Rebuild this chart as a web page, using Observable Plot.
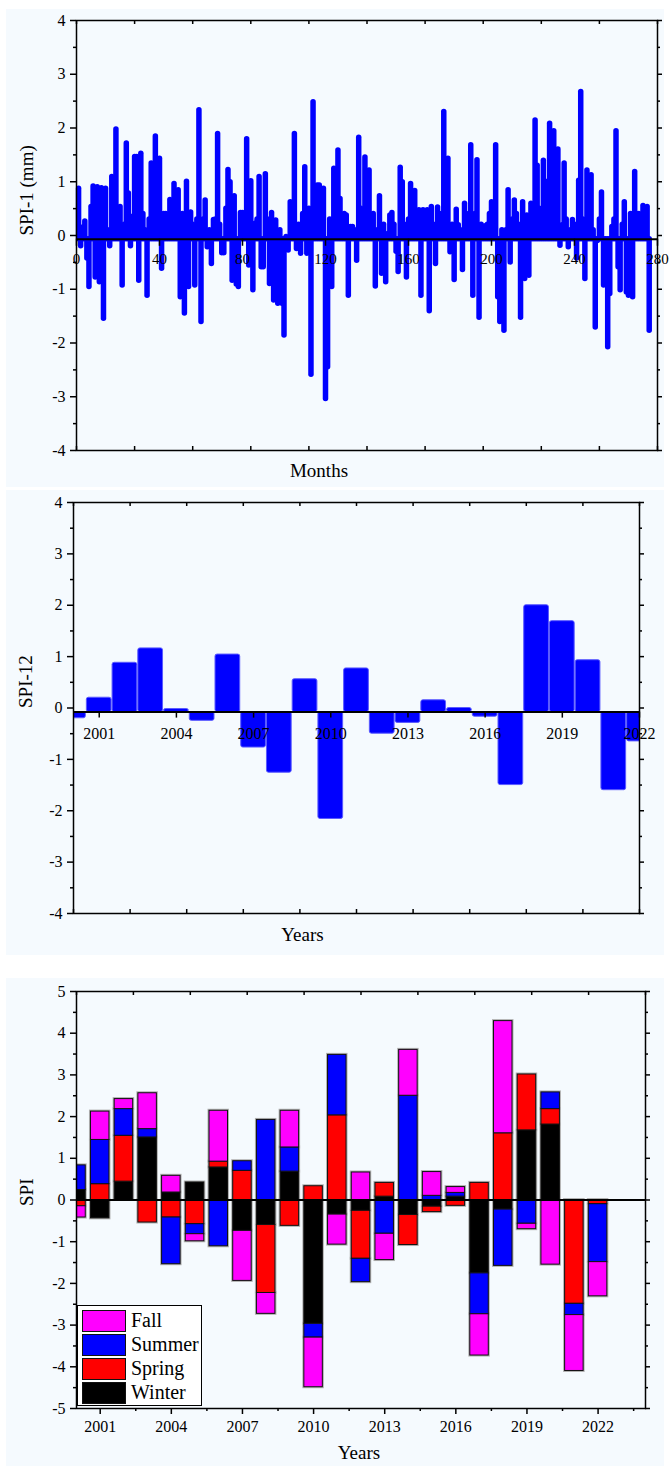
<!DOCTYPE html>
<html><head><meta charset="utf-8">
<script src="https://cdn.jsdelivr.net/npm/d3@7"></script>
<script src="https://cdn.jsdelivr.net/npm/@observablehq/plot@0.6"></script>
<style>
html,body{margin:0;padding:0;background:#fff;}
body{width:670px;height:1466px;position:relative;overflow:hidden;font-family:"Liberation Serif","Times New Roman",serif;}
.panel{position:absolute;left:6px;width:658px;background:#f5fafe;}
.panel svg{display:block;overflow:visible;}
#legend{position:absolute;left:77px;top:1305px;width:123px;height:99px;border:1px solid #000;background:#fff;}
#legend .row{position:absolute;left:4px;height:21px;}
#legend .sw{position:absolute;left:0;top:0;width:42px;height:20px;border:1px solid #111;}
#legend .lb{position:absolute;left:49px;top:-2px;font-size:20px;line-height:24px;white-space:nowrap;color:#000;}
</style></head><body>
<div class="panel" id="p1" style="top:9px;height:478px"></div>
<div class="panel" id="p2" style="top:490px;height:465px"></div>
<div class="panel" id="p3" style="top:978px;height:488px"></div>
<div id="legend"></div>
<script>
// ---------- DATA ----------
// Panel 1: monthly SPI-1, Jan 2000 .. Dec 2022 (one row per year)
const spi1Monthly = [
  0.87,-0.20,0.15,0.26,-0.43,-0.96,0.53,0.91,-0.78,0.90,-0.87,0.88,
  -1.55,0.87,0.10,-0.20,1.09,0.45,1.97,0.30,0.53,-0.93,0.20,1.71,
  0.78,-0.20,0.35,1.46,1.46,-0.84,1.52,0.40,0.10,-1.12,0.30,1.34,
  0.20,1.84,0.90,1.43,-0.62,0.40,0.40,0.30,0.66,0.50,0.96,0.60,
  0.84,-1.15,0.40,-1.45,1.00,-0.96,0.43,0.20,-0.93,0.30,2.33,-1.61,
  0.30,0.65,-0.22,0.10,-0.53,0.29,0.30,1.89,0.20,-0.33,-0.33,0.50,
  1.22,0.99,-0.84,0.73,-0.91,-0.96,0.42,0.42,0.20,1.79,-0.56,1.01,
  -1.02,0.22,0.30,1.09,-0.59,-0.59,1.14,0.30,-0.90,0.42,-1.21,0.28,
  -1.27,0.10,-1.27,-1.86,-0.03,-0.28,0.62,0.10,1.89,-0.25,0.20,-0.34,
  0.40,1.27,-0.34,0.50,-2.59,2.48,0.20,0.93,0.93,0.30,0.87,-3.04,
  -2.45,0.30,-0.96,1.24,0.50,1.58,0.68,0.30,0.40,0.37,-1.12,0.16,
  0.16,0.10,-0.47,1.82,0.50,0.40,1.45,0.30,1.21,0.30,0.40,-0.95,
  0.10,0.73,-0.71,0.20,-0.87,0.03,0.37,0.42,0.20,-0.30,-0.68,1.26,
  0.99,0.20,-0.78,0.30,0.96,0.40,0.83,0.20,0.47,-1.12,0.47,0.20,
  0.47,-1.41,0.53,0.20,-0.53,0.52,0.40,0.30,2.30,0.50,1.43,-0.31,
  0.20,-0.83,0.48,0.19,0.10,-0.64,0.59,0.30,0.40,1.68,-1.12,0.40,
  1.40,-1.53,0.20,0.16,0.17,0.20,0.40,0.62,0.30,1.68,-1.15,-1.61,
  0.10,-1.77,0.10,0.84,-0.50,0.30,0.65,0.40,0.20,-1.53,0.62,-0.81,
  0.37,-0.75,0.59,0.30,2.14,1.30,0.50,0.30,1.39,0.60,1.00,2.08,
  0.70,1.94,0.50,1.60,-0.19,0.19,1.34,0.30,-0.22,0.10,0.29,0.20,
  -0.43,1.02,2.67,0.30,-0.81,1.21,0.60,1.12,0.10,-1.71,-0.10,0.30,
  0.80,-0.93,-0.30,-2.08,-1.09,0.16,0.30,1.94,-0.59,-1.02,0.20,0.62,
  -1.06,-1.12,0.40,-1.15,1.18,0.40,0.40,0.20,0.55,0.30,0.53,-1.77
];
const monthTicks = [0,40,80,120,160,200,240,280];

// Panel 2: annual SPI-12
const years = [2000,2001,2002,2003,2004,2005,2006,2007,2008,2009,2010,2011,2012,2013,2014,2015,2016,2017,2018,2019,2020,2021,2022];
const spi12 = [-0.20,0.20,0.88,1.16,-0.02,-0.25,1.04,-0.77,-1.26,0.56,-2.16,0.77,-0.50,-0.29,0.15,0.00,-0.17,-1.50,2.00,1.69,0.93,-1.60,-0.65];
const yearTicks = [2001,2004,2007,2010,2013,2016,2019,2022];

// Panel 3: seasonal SPI (stacked)
const seasons = ["Winter","Spring","Summer","Fall"];
const seasonColors = ["#000000","#ff0000","#0000ff","#ff00ff"];
const winter = [0.24,-0.44,0.44,1.50,0.18,0.42,0.78,-0.74,-0.60,0.68,-2.97,-0.35,-0.26,0.08,-0.36,-0.16,0.08,-1.76,-0.23,1.67,1.81,0.00,0.00];
const spring = [-0.15,0.38,1.10,-0.54,-0.42,-0.58,0.14,0.70,-1.63,-0.62,0.33,2.03,-1.15,0.33,-0.72,-0.13,-0.14,0.41,1.60,1.34,0.37,-2.49,-0.10];
const summer = [0.59,1.06,0.64,0.20,-1.12,-0.24,-1.11,0.23,1.92,0.58,-0.33,1.45,-0.56,-0.81,2.50,0.10,0.09,-0.98,-1.35,-0.57,0.40,-0.27,-1.39];
const fall   = [-0.27,0.68,0.24,0.86,0.40,-0.17,1.22,-1.20,-0.50,0.88,-1.19,-0.72,0.66,-0.63,1.10,0.57,0.14,-0.99,2.69,-0.13,-1.55,-1.34,-0.82];

// ---------- HELPERS ----------
const FONT = "'Liberation Serif','Times New Roman',serif";
const base = -0.07; // position of the x axis line (Origin style)
function vTicks(values, at, len, sw = 1.5) {
  return Plot.ruleX(values, {x: d => d, y1: at, y2: at, insetTop: 0, insetBottom: -len, stroke: "#000", strokeWidth: sw});
}
function hTicks(values, at, len, sw = 1.5) {
  return Plot.ruleY(values, {y: d => d, x1: at, x2: at, insetLeft: 0, insetRight: -len, stroke: "#000", strokeWidth: sw});
}
function yAxisMarks(xd, yd, fs) {
  const majors = d3.range(yd[0], yd[1] + 1);
  const minors = d3.range(yd[0] + 0.5, yd[1], 1);
  return [
    hTicks(majors, xd[0], -6), hTicks(minors, xd[0], -3),
    hTicks(majors, xd[1], 5), hTicks(minors, xd[1], 3),
    Plot.text(majors, {x: () => xd[0], y: d => d, text: d => String(d), textAnchor: "end", dx: -11, fontSize: fs})
  ];
}
const style = {background: "transparent", fontFamily: FONT, fontSize: "15px", color: "#000", overflow: "visible"};

// ---------- PANEL 1 ----------
const months = spi1Monthly.map((v, i) => ({month: i + 1, value: v}));
const p1 = Plot.plot({
  width: 658, height: 478, marginLeft: 70, marginRight: 7, marginTop: 11, marginBottom: 37,
  style,
  x: {domain: [0, 280], axis: null},
  y: {domain: [-4, 4], axis: null},
  marks: [
    Plot.ruleX(months, {x: "month", y1: base, y2: "value", stroke: "#0000ff", strokeWidth: 5.5, strokeLinecap: "round"}),
    Plot.ruleY([base], {stroke: "#000", strokeWidth: 2}),
    vTicks(monthTicks, base, 7),
    Plot.text(monthTicks, {x: d => d, y: base, text: d => String(d), dy: 20, fontSize: 15}),
    Plot.frame({stroke: "#000", strokeWidth: 1.5}),
    vTicks(d3.range(0, 281, 28), 4, 4),
    vTicks(d3.range(0, 281, 28), -4, -4),
    ...yAxisMarks([0, 280], [-4, 4], 16),
    Plot.text(["SPI-1 (mm)"], {frameAnchor: "left", dx: -50, rotate: -90, fontSize: 19}),
    Plot.text(["Months"], {frameAnchor: "bottom", dx: -48, dy: 26, fontSize: 19})
  ]
});
document.getElementById("p1").append(p1);

// ---------- PANEL 2 ----------
const annual = years.map((y, i) => ({year: y, value: spi12[i]}));
const base2 = -0.08;
const p2 = Plot.plot({
  width: 658, height: 465, marginLeft: 67, marginRight: 25, marginTop: 12, marginBottom: 42,
  style,
  x: {domain: [2000, 2022], axis: null},
  y: {domain: [-4, 4], axis: null},
  marks: [
    Plot.rect(annual, {x1: d => d.year - 0.5, x2: d => d.year + 0.5, y1: base2, y2: "value",
      fill: "#0000ff", stroke: "#5a5aff", strokeWidth: 1, insetLeft: 0.5, insetRight: 0.5, rx: 2, clip: true}),
    Plot.ruleY([base2], {stroke: "#000", strokeWidth: 2}),
    vTicks(yearTicks, base2, 6),
    Plot.text(yearTicks, {x: d => d, y: base2, text: d => String(d), dy: 22, fontSize: 16}),
    Plot.frame({stroke: "#000", strokeWidth: 1.5}),
    vTicks(d3.range(0, 11).map(i => 2000 + 2.2 * i), 4, 4),
    vTicks(d3.range(0, 11).map(i => 2000 + 2.2 * i), -4, -4),
    ...yAxisMarks([2000, 2022], [-4, 4], 16),
    Plot.text(["SPI-12"], {frameAnchor: "left", dx: -48, rotate: -90, fontSize: 19}),
    Plot.text(["Years"], {frameAnchor: "bottom", dx: -54, dy: 27, fontSize: 19})
  ]
});
document.getElementById("p2").append(p2);

// ---------- PANEL 3 ----------
const seasonal = [];
years.forEach((y, i) => {
  seasonal.push({year: y, season: "Winter", value: winter[i]});
  seasonal.push({year: y, season: "Spring", value: spring[i]});
  seasonal.push({year: y, season: "Summer", value: summer[i]});
  seasonal.push({year: y, season: "Fall", value: fall[i]});
});
const halfW = 0.39;
const minorYears = d3.range(2002.5, 2024, 3);
const p3 = Plot.plot({
  width: 658, height: 488, marginLeft: 70, marginRight: 19, marginTop: 13, marginBottom: 58,
  style,
  x: {domain: [2000, 2024], axis: null},
  y: {domain: [-5, 5], axis: null},
  color: {domain: seasons, range: seasonColors},
  marks: [
    Plot.rectY(seasonal, {x1: d => d.year - halfW, x2: d => d.year + halfW, y: "value", z: "season", order: seasons,
      fill: "#b8b8b8", stroke: "#b0b0b0", strokeWidth: 3, clip: true}),
    Plot.rectY(seasonal, {x1: d => d.year - halfW, x2: d => d.year + halfW, y: "value", z: "season", order: seasons,
      fill: "season", stroke: "#111", strokeWidth: 1, clip: true}),
    Plot.ruleY([0], {stroke: "#000", strokeWidth: 2}),
    Plot.frame({stroke: "#000", strokeWidth: 1.5}),
    vTicks(yearTicks, -5, 6),
    vTicks(minorYears, -5, 3),
    Plot.text(yearTicks, {x: d => d, y: -5, text: d => String(d), dy: 18, fontSize: 16}),
    vTicks(d3.range(0, 11).map(i => 2000 + 2.4 * i), 5, 4),
    ...yAxisMarks([2000, 2024], [-5, 5], 16),
    Plot.text(["SPI"], {frameAnchor: "left", dx: -50, dy: 6, rotate: -90, fontSize: 19}),
    Plot.text(["Years"], {frameAnchor: "bottom", dx: -2, dy: 50, fontSize: 19})
  ]
});
document.getElementById("p3").append(p3);

// ---------- LEGEND ----------
const legend = document.getElementById("legend");
seasons.slice().reverse().forEach((s, i) => {
  const row = document.createElement("div");
  row.className = "row";
  row.style.top = (4 + i * 24) + "px";
  const sw = document.createElement("div");
  sw.className = "sw";
  sw.style.background = seasonColors[seasons.indexOf(s)];
  const lb = document.createElement("div");
  lb.className = "lb";
  lb.textContent = s;
  row.append(sw, lb);
  legend.append(row);
});
</script>
</body></html>
